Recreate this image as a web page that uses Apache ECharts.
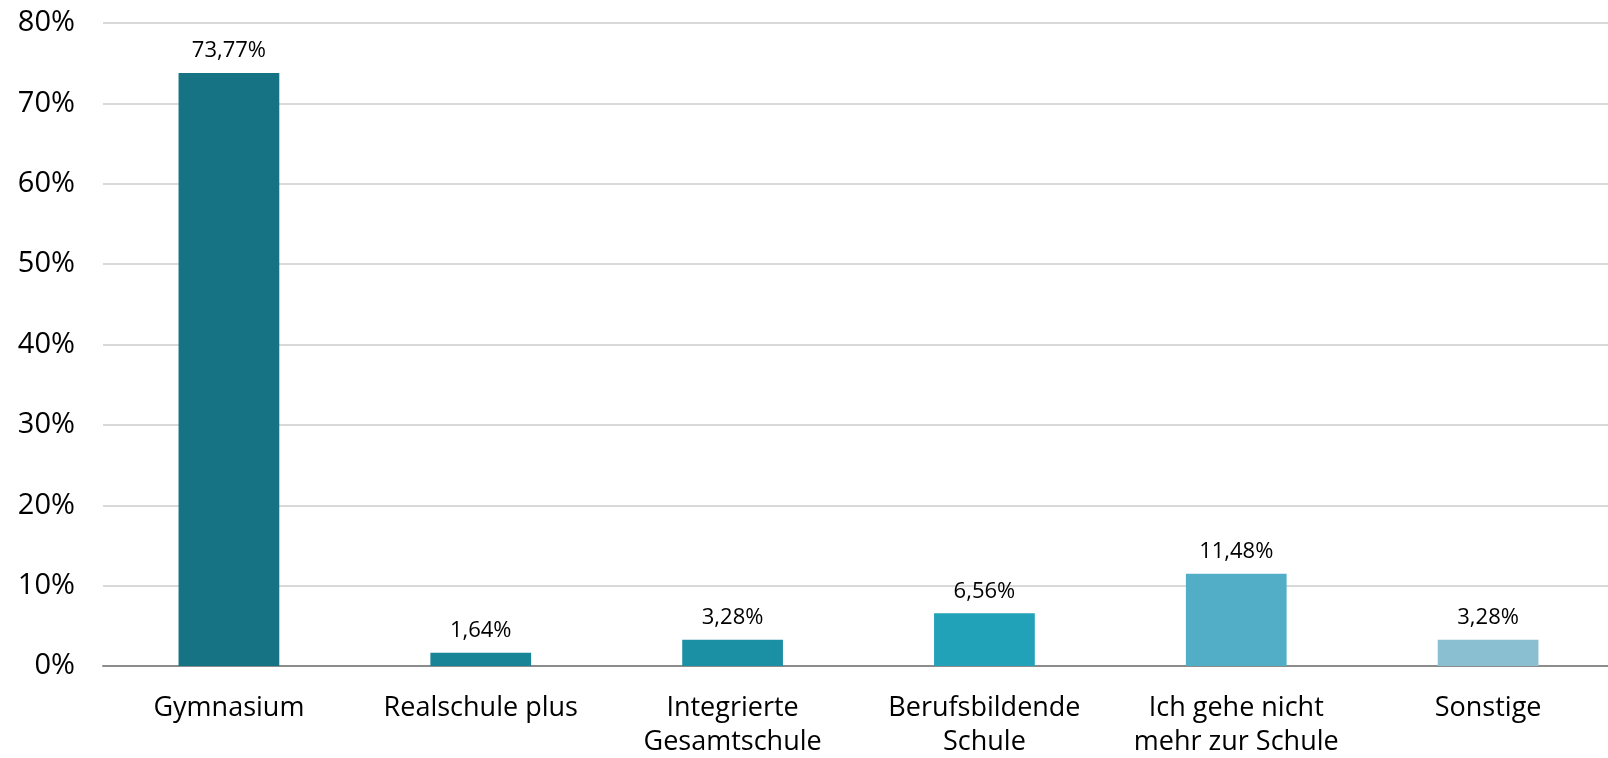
<!DOCTYPE html>
<html>
<head>
<meta charset="utf-8">
<script src="https://cdn.jsdelivr.net/npm/echarts@6/dist/echarts.min.js"></script>
<style>
html,body{margin:0;padding:0;background:#fff;}
#chart{width:1608px;height:758px;}
</style>
</head>
<body>
<div id="chart"></div>
<script>
const categories = ["Gymnasium", "Realschule plus", "Integrierte\nGesamtschule", "Berufsbildende\nSchule", "Ich gehe nicht\nmehr zur Schule", "Sonstige"];
const values = [73.77, 1.64, 3.28, 6.56, 11.48, 3.28];
const barColors = ["#157383", "#1A8497", "#1B8FA3", "#21A2B9", "#52AEC6", "#89BFD0"];

const chart = echarts.init(document.getElementById('chart'));
chart.setOption({
  animation: false,
  grid: { left: 103, width: 1511, top: 23, bottom: 92, containLabel: false, outerBoundsMode: 'none' },
  xAxis: {
    type: 'category',
    data: categories,
    axisTick: { show: false },
    axisLine: { lineStyle: { color: '#8c8c8c', width: 2 } },
    axisLabel: {
      color: '#000', fontSize: 27, fontFamily: 'Open Sans', margin: 25,
      lineHeight: 34, interval: 0
    }
  },
  yAxis: {
    type: 'value',
    min: 0, max: 80, interval: 10,
    axisLine: { show: false },
    axisTick: { show: false },
    splitLine: { lineStyle: { color: '#d9d9d9', width: 2 } },
    axisLabel: {
      color: '#000', fontSize: 29, fontFamily: 'Open Sans', margin: 28,
      formatter: v => v + '%'
    }
  },
  series: [{
    type: 'bar',
    data: values.map((v, i) => ({ value: v, itemStyle: { color: barColors[i] } })),
    barWidth: '40%',
    label: {
      show: true, position: 'top', distance: 11,
      color: '#000', fontSize: 22, fontFamily: 'Open Sans',
      formatter: p => p.value.toFixed(2).replace('.', ',') + '%'
    }
  }]
});
</script>
</body>
</html>
